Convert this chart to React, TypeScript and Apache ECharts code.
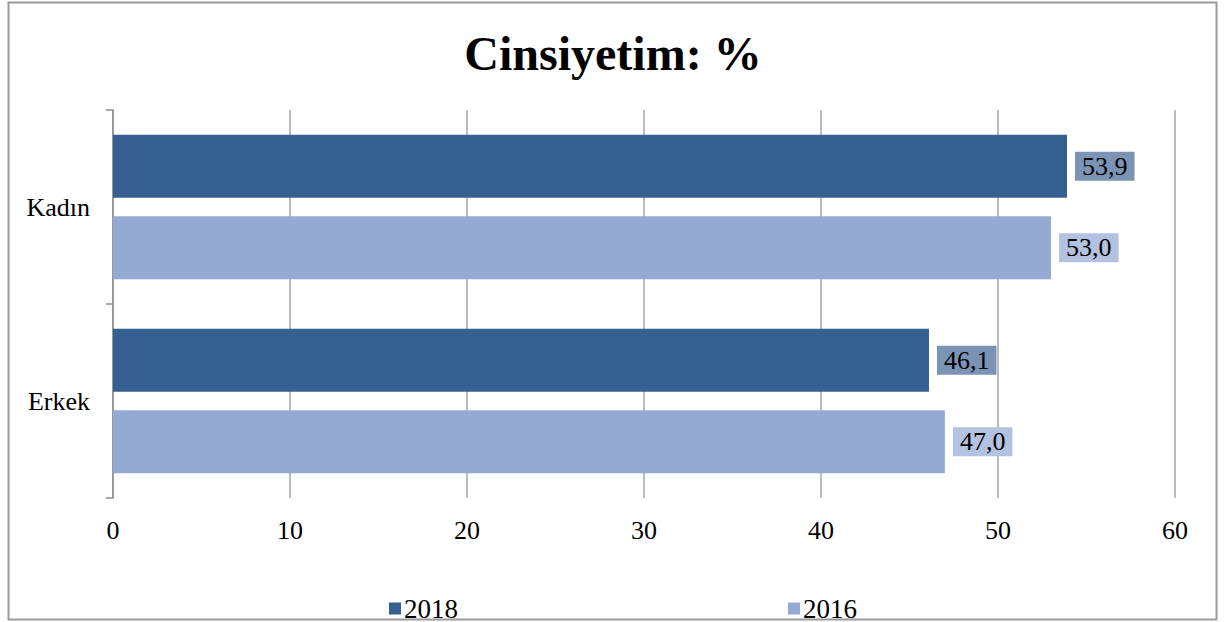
import React, { useEffect, useRef } from "react";
import * as echarts from "echarts";

const categories = ["Kadın", "Erkek"];
const seriesNames = ["2018", "2016"];
const values2018 = [53.9, 46.1];
const values2016 = [53.0, 47.0];
const xTicks = { min: 0, max: 60, interval: 10 };

const FONT = "'Liberation Serif', 'Times New Roman', serif";

export default function App() {
  const ref = useRef<HTMLDivElement>(null);
  useEffect(() => {
    if (!ref.current) return;
    const chart = echarts.init(ref.current, null, { renderer: "svg" });
    const labelFmt = (p: any) => Number(p.value).toFixed(1).replace(".", ",");
    chart.setOption({
      animation: false,
      backgroundColor: "#ffffff",
      title: {
        text: "Cinsiyetim: %",
        left: "center",
        top: 24,
        textStyle: { fontFamily: FONT, fontSize: 48, fontWeight: "bold", color: "#000" },
      },
      graphic: [
        {
          type: "rect",
          shape: { x: 8.5, y: 2.5, width: 1208, height: 617 },
          style: { fill: "none", stroke: "#9a9a9a", lineWidth: 2 },
          silent: true,
        },
      ],
      legend: {
        left: 384,
        top: 590,
        itemWidth: 12,
        itemHeight: 12,
        itemGap: 330,
        icon: "rect",
        textStyle: { fontFamily: FONT, fontSize: 27, color: "#000", padding: [0, 0, 0, -2] },
        data: seriesNames,
      },
      grid: { left: 113, right: 51, top: 110, bottom: 124, containLabel: false },
      xAxis: {
        type: "value",
        min: xTicks.min,
        max: xTicks.max,
        interval: xTicks.interval,
        axisLine: { show: false },
        axisTick: { show: false },
        splitLine: { show: true, lineStyle: { color: "#a6a6a6", width: 1.5 } },
        axisLabel: { fontFamily: FONT, fontSize: 26, color: "#000", margin: 19 },
      },
      yAxis: {
        type: "category",
        data: categories,
        inverse: true,
        axisLine: { show: true, lineStyle: { color: "#8c8c8c", width: 1.5 } },
        axisTick: { show: true, length: 7, lineStyle: { color: "#8c8c8c", width: 1.5 } },
        axisLabel: { fontFamily: FONT, fontSize: 26, color: "#000", margin: 23 },
      },
      series: [
        {
          name: seriesNames[0],
          type: "bar",
          data: values2018,
          barWidth: 63,
          barGap: "29%",
          itemStyle: { color: "#366092" },
          label: {
            show: true,
            position: "right",
            distance: 8,
            formatter: labelFmt,
            fontFamily: FONT,
            fontSize: 26,
            color: "#000",
            backgroundColor: "#7b94b6",
            padding: [2, 7, 1, 7],
          },
        },
        {
          name: seriesNames[1],
          type: "bar",
          data: values2016,
          barWidth: 63,
          barGap: "29%",
          itemStyle: { color: "#95aad2" },
          label: {
            show: true,
            position: "right",
            distance: 8,
            formatter: labelFmt,
            fontFamily: FONT,
            fontSize: 26,
            color: "#000",
            backgroundColor: "#b2c2e0",
            padding: [2, 7, 1, 7],
          },
        },
      ],
    });
    return () => chart.dispose();
  }, []);
  return (
    <div
      ref={ref}
      style={{ position: "absolute", left: 0, top: 0, width: 1226, height: 622 }}
    />
  );
}
